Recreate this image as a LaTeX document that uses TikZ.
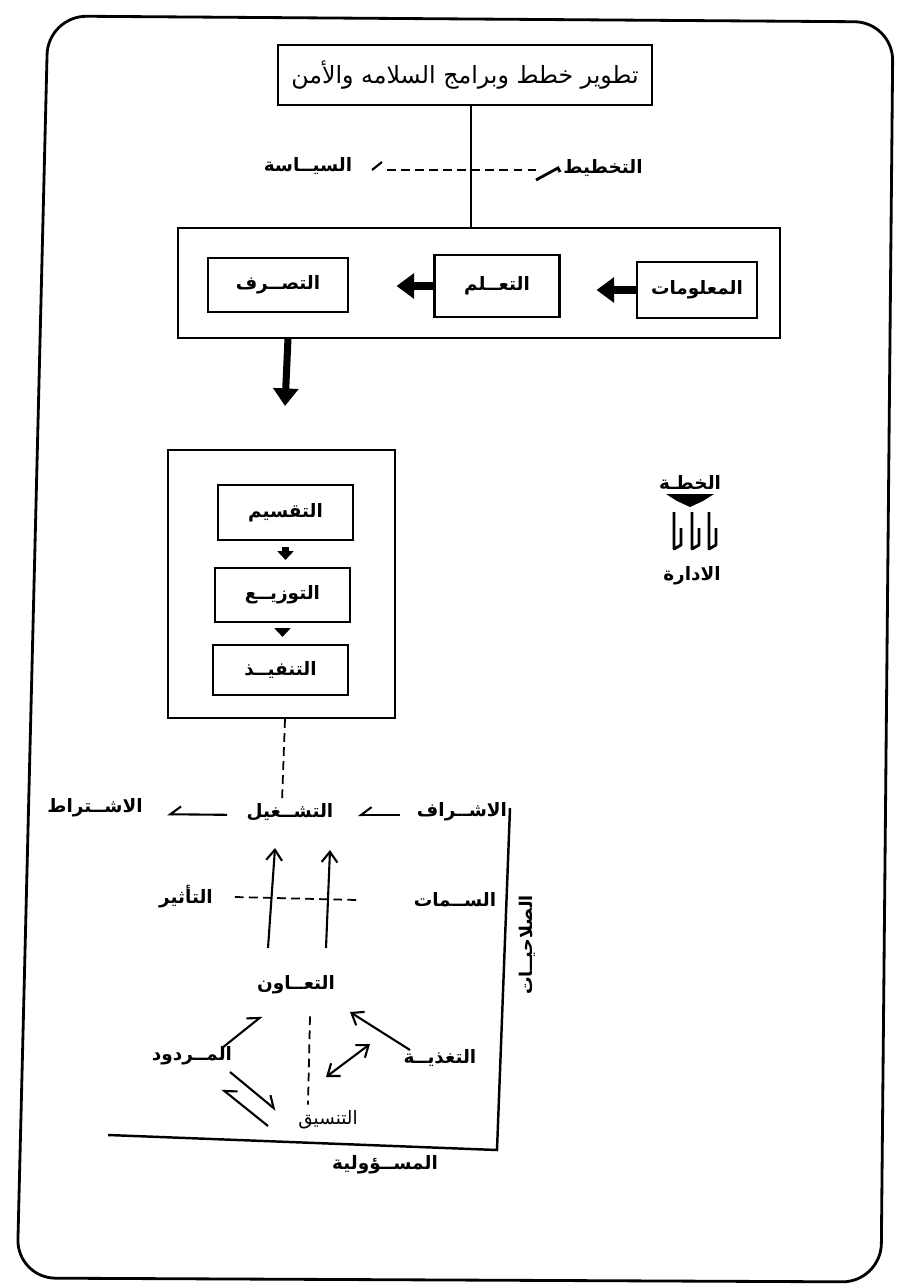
\documentclass[tikz,border=0pt]{standalone}
\usepackage{fontspec}
\usetikzlibrary{arrows.meta}
\TeXXeTstate=1
\newfontfamily\arabicfont[Script=Arabic]{DejaVu Sans}
\newcommand{\artxt}[1]{\beginR #1\endR}

\begin{document}
\begin{tikzpicture}[x=0.02cm,y=-0.02cm,
  frame/.style={draw,line width=1.3pt},
  box/.style={draw,line width=1.2pt,inner sep=0pt},
  lab/.style={font=\arabicfont\bfseries\fontsize{10.5}{12}\selectfont,inner sep=1pt},
  plain/.style={font=\arabicfont\fontsize{13.5}{15}\selectfont,inner sep=1pt},
  bigarrow/.style={line width=4pt,-{Triangle[length=10pt,width=14pt]}},
  smallarrow/.style={line width=4pt,-{Triangle[length=5pt,width=9pt]}},
  thin arrow/.style={line width=1.2pt,-{Straight Barb[length=6pt,width=9pt]}},
  half arrow/.style={line width=1.2pt,-{Straight Barb[harpoon,length=6pt,width=9pt]}},
  half arrow swap/.style={line width=1.2pt,-{Straight Barb[harpoon,swap,length=6pt,width=9pt]}},
  dashline/.style={line width=1pt,dash pattern=on 5pt off 3pt}]
\useasboundingbox (0,0) rectangle (905,1287);

% rounded outer border
\draw[line width=1.6pt,rounded corners=22pt]
  (48,16) -- (893,22) -- (881,1282) -- (17,1278) -- cycle;

% programme box and the policy/planning axis
\node[box,minimum width=7.48cm,minimum height=1.2cm,plain] (top) at (465,75)
  {\artxt{تطوير خطط وبرامج السلامه والأمن}};
\node[box,minimum width=12.04cm,minimum height=2.2cm] (chain) at (479,283) {};
\draw[line width=1.1pt] (top.south -| 471,0) -- (chain.north -| 471,0);

\node[lab] (policy) at (308,166) {\artxt{السيــاسة}};
\node[lab] (plan) at (603,168) {\artxt{التخطيط}};
\coordinate (pl) at (372,170);
\coordinate (pr) at (540,170);
\draw[line width=1.2pt] (pl) -- ++(10,-8);
\draw[dashline] ([xshift=0.3cm]pl) -- (pr);
\draw[line width=1.6pt] (pr) ++(-4,10) -- ++(22,-12) -- ++(2,4);

% information, learning, behaviour
\node[box,minimum width=2.4cm,minimum height=1.12cm,lab] (info) at (697,290) {\artxt{المعلومات}};
\node[box,minimum width=2.5cm,minimum height=1.24cm,lab] (learn) at (497,286) {\artxt{التعــلم}};
\node[box,minimum width=2.8cm,minimum height=1.08cm,lab] (behav) at (278,285) {\artxt{التصــرف}};
\draw[bigarrow,shorten >=0.72cm] (info.west) -- (learn.east |- info.west);
\draw[bigarrow,shorten >=0.95cm] (learn.west) -- (behav.east |- learn.west);

\coordinate (down1) at (288,338);
\coordinate (down2) at (285,406);
\draw[bigarrow] (down1) -- (down2);

% division, distribution, execution
\node[box,minimum width=4.54cm,minimum height=5.36cm] (exec) at (281.5,584) {};
\node[box,minimum width=2.7cm,minimum height=1.1cm,lab] (e1) at (285.5,512.5) {\artxt{التقسيم}};
\node[box,minimum width=2.7cm,minimum height=1.08cm,lab] (e2) at (282.5,595) {\artxt{التوزيــع}};
\node[box,minimum width=2.7cm,minimum height=1.0cm,lab] (e3) at (280.5,670) {\artxt{التنفيــذ}};
\draw[smallarrow,shorten <=0.12cm,shorten >=0.14cm] (e1.south) -- (e1.south |- e2.north);
\draw[smallarrow,shorten <=0.12cm,shorten >=0.14cm] (e2.south) -- (e2.south |- e3.north);

% plan / management legend
\node[lab] (khitta) at (690,482) {\artxt{الخطـة}};
\fill (666,494) -- (714,494) -- (703,501) -- (690,507) -- (677,501) -- cycle;
\foreach \x in {674,692,709}{
  \draw[line width=1.6pt,line join=round] (\x,512) -- (\x,549) -- (\x+7,545) -- (\x+7,528);
}
\node[lab] (idara) at (692,576) {\artxt{الادارة}};

% supervision, operation, conditioning
\node[lab] (ishraf) at (462,812) {\artxt{الاشــراف}};
\node[lab] (tashgil) at (290,812) {\artxt{التشــغيل}};
\node[lab] (ishtirat) at (95,808) {\artxt{الاشــتراط}};
\draw[half arrow swap,shorten <=0.3cm,shorten >=0.45cm] ([yshift=-0.06cm]ishraf.west) -- ([yshift=-0.06cm]tashgil.east);
\draw[half arrow swap,shorten <=0.35cm,shorten >=0.45cm] ([yshift=-0.06cm]tashgil.west) -- ([yshift=-0.12cm]ishtirat.east);
\draw[dashline] (exec.south -| 285,0) -- (tashgil.north -| 282,0);

% authority / responsibility axes
\coordinate (axtop) at (510,808);
\coordinate (axcorner) at (497,1150);
\coordinate (axleft) at (108,1135);
\draw[line width=1.4pt] (axtop) -- (axcorner) -- (axleft);
\node[font=\arabicfont\bfseries\fontsize{10}{12}\selectfont,rotate=90] (salahiyat) at (527,945) {\artxt{الصلاحيــات}};
\node[lab] (masuliya) at (385,1165) {\artxt{المســؤولية}};

% influence and traits
\node[lab] (taathir) at (186,897) {\artxt{التأثير}};
\node[lab] (simat) at (455,900) {\artxt{الســمات}};
\draw[dashline] ([xshift=0.4cm]taathir.east) -- ([xshift=-1.1cm]simat.west);

\node[lab] (taawun) at (296,985) {\artxt{التعــاون}};
\coordinate (u1a) at (268,948); \coordinate (u1b) at (275,848);
\coordinate (u2a) at (326,948); \coordinate (u2b) at (330,850);
\draw[thin arrow] (u1a) -- (u1b);
\draw[thin arrow] (u2a) -- (u2b);

% cooperation triangle
\node[lab] (mardud) at (192,1056) {\artxt{المــردود}};
\node[lab] (taghdhia) at (440,1058) {\artxt{التغذيــة}};
\node[font=\arabicfont\fontsize{10.5}{12}\selectfont] (tansiq) at (328,1120) {\artxt{التنسيق}};
\coordinate (m1) at (222,1048); \coordinate (m2) at (262,1016);
\draw[half arrow] (m1) -- (m2);
\coordinate (t1) at (410,1050); \coordinate (t2) at (350,1012);
\draw[thin arrow] (t1) -- (t2);
\coordinate (d1) at (326,1077); \coordinate (d2) at (370,1044);
\draw[line width=1.2pt,{Straight Barb[length=6pt,width=9pt]}-{Straight Barb[length=6pt,width=9pt]}] (d1) -- (d2);
\draw[dashline] (taawun.south -| 310,0) ++(0,20) -- (tansiq.north -| 308,0);
\coordinate (h1) at (230,1072); \coordinate (h2) at (276,1110);
\coordinate (h3) at (268,1126); \coordinate (h4) at (222,1089);
\draw[half arrow] (h1) -- (h2);
\draw[half arrow swap] (h3) -- (h4);
\end{tikzpicture}
\end{document}
